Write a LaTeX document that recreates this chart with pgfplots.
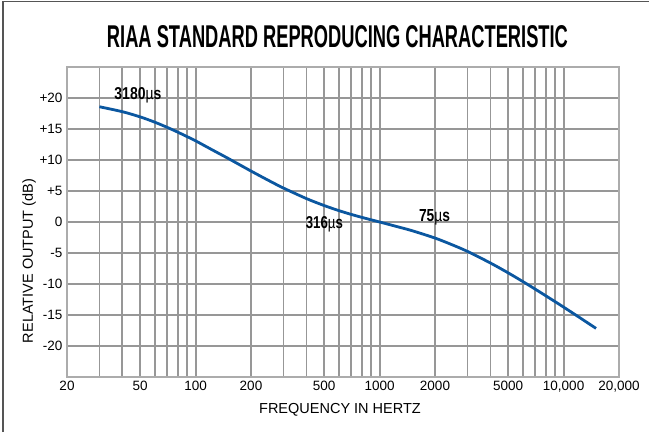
\documentclass[border=0pt]{standalone}
\usepackage{fontspec}
\setmainfont{Liberation Sans}
\usepackage{pgfplots}
\pgfplotsset{compat=1.18}
\definecolor{riaablue}{HTML}{0B57A0}
\definecolor{gridgray}{HTML}{979797}
\definecolor{framegray}{HTML}{555555}
\pgfplotstableread{
f db
30 18.59
40 17.79
50 16.95
60 16.10
70 15.27
80 14.49
90 13.76
100 13.09
125 11.53
150 10.27
200 8.22
250 6.68
300 5.48
400 3.78
500 2.65
600 1.84
700 1.23
800 0.75
900 0.35
1000 0.00
1250 -0.76
1500 -1.40
2000 -2.59
2500 -3.72
3000 -4.74
4000 -6.61
5000 -8.21
6000 -9.60
7000 -10.82
8000 -11.90
9000 -12.86
10000 -13.73
12000 -15.26
15000 -17.16
}\riaa
\begin{document}
\begin{tikzpicture}[x=1pt,y=1pt]
\useasboundingbox (0,0) rectangle (649,432);
\draw[framegray, line width=1.5pt] (3,0) -- (3,430.5) -- (649,430.5);
\node[inner sep=0pt] at (337.5,395.5) {\resizebox{461pt}{22pt}{\bfseries RIAA STANDARD REPRODUCING CHARACTERISTIC}};
\node[rotate=90] at (29,171) {\fontsize{14.5}{16}\selectfont RELATIVE OUTPUT (dB)};
\node at (340,22) {\fontsize{14.5}{16}\selectfont FREQUENCY IN HERTZ};
\begin{axis}[
  at={(67pt,55pt)}, anchor=south west,
  scale only axis, width=552pt, height=310pt,
  xmode=log, xmin=20, xmax=20000, ymin=-25, ymax=25,
  xtick={20,30,40,50,60,70,80,90,100,200,300,400,500,600,700,800,900,1000,2000,3000,4000,5000,6000,7000,8000,9000,10000,20000},
  xticklabels={20,,,50,,,,,100,200,,,500,,,,,1000,2000,,,5000,,,,,{10,000},{20,000}},
  ytick={-20,-15,-10,-5,0,5,10,15,20},
  yticklabels={-20,-15,-10,-5,0,+5,+10,+15,+20},
  minor xtick={},
  major tick length=0pt, minor tick length=0pt,
  grid=major,
  major grid style={draw=gridgray, line width=1.8pt},
  axis line style={draw=gridgray!80, line width=2pt},
  tick label style={font=\fontsize{13.5}{15}\selectfont},
  xticklabel style={yshift=-1pt},
  yticklabel style={xshift=-1pt},
  clip=false,
]
\addplot[riaablue, line width=2.8pt, smooth] table[x=f, y=db] {\riaa};
\node[anchor=base, inner sep=0pt] at (axis cs:48.6,19.8) {\resizebox{47pt}{12pt}{\bfseries 3180{\mdseries µ}s}};
\node[anchor=base, inner sep=0pt] at (axis cs:501,-1.0) {\resizebox{37pt}{12pt}{\bfseries 316{\mdseries µ}s}};
\node[anchor=base, inner sep=0pt] at (axis cs:1988,0.16) {\resizebox{31pt}{12pt}{\bfseries 75{\mdseries µ}s}};
\end{axis}
\end{tikzpicture}
\end{document}
